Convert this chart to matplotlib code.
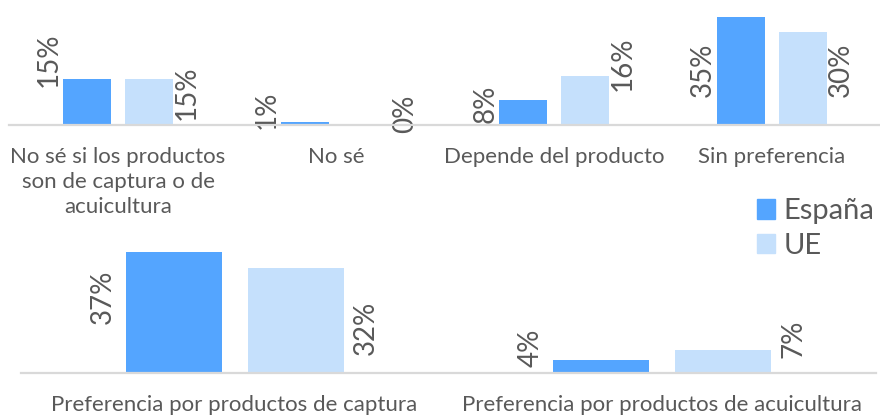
import matplotlib
matplotlib.use("Agg")
import matplotlib.pyplot as plt
from matplotlib.patches import Patch

plt.rcParams['font.family'] = ['Lato', 'DejaVu Sans']

# ---- data ----
top_categories = ["No sé si los productos\nson de captura o de\nacuicultura",
                  "No sé", "Depende del producto", "Sin preferencia"]
top_espana = [15, 1, 8, 35]
top_ue = [15, 0, 16, 30]

bottom_categories = ["Preferencia por productos de captura",
                     "Preferencia por productos de acuicultura"]
bottom_espana = [37, 4]
bottom_ue = [32, 7]

series_names = ["España", "UE"]

# ---- label placement (centre of rotated value labels, in data units) ----
top_lab_es = [21.2, 4.9, 6.8, 18.0]
top_lab_ue = [10.4, 3.6, 19.7, 18.0]
bot_lab_es = [23.2, 7.6]
bot_lab_ue = [13.8, 10.4]

C_ES = "#54A5FF"
C_UE = "#C5E0FC"
TXT = "#595959"
AX = "#D9D9D9"

W, H = 880, 415
fig = plt.figure(figsize=(W / 100, H / 100), dpi=100)

ax1 = fig.add_axes([9 / W, (H - 125) / H, 872 / W, 125 / H])
ax2 = fig.add_axes([20.75 / W, (H - 373) / H, 855.25 / W, 133 / H])


def draw(ax, cats, es, ue, lab_es, lab_ue, width, off, ymax, xoff_pt):
    x = list(range(len(cats)))
    b1 = ax.bar([i - off for i in x], es, width, color=C_ES, zorder=2)
    b2 = ax.bar([i + off for i in x], ue, width, color=C_UE, zorder=2)
    ax.set_xlim(-0.5, len(cats) - 0.5)
    ax.set_ylim(0, ymax)
    for s in ("top", "left", "right"):
        ax.spines[s].set_visible(False)
    ax.spines["bottom"].set_color(AX)
    ax.spines["bottom"].set_linewidth(1.6)
    ax.spines["bottom"].set_zorder(3)
    ax.set_yticks([])
    ax.set_xticks(x)
    ax.set_xticklabels(cats, fontsize=16, color=TXT, linespacing=1.3)
    ax.tick_params(axis="x", length=0, pad=16)
    ax.patch.set_visible(False)
    for rect, v, ly in zip(b1, es, lab_es):
        ax.annotate(f"{v}%", xy=(rect.get_x(), ly), xytext=(-xoff_pt, 0),
                    textcoords="offset points", rotation=90, ha="center",
                    va="center", fontsize=20, color=TXT)
    for rect, v, ly in zip(b2, ue, lab_ue):
        ax.annotate(f"{v}%", xy=(rect.get_x() + rect.get_width(), ly),
                    xytext=(xoff_pt, 0), textcoords="offset points",
                    rotation=90, ha="center", va="center", fontsize=20,
                    color=TXT)


draw(ax1, top_categories, top_espana, top_ue, top_lab_es, top_lab_ue,
     0.22, 0.142, 40.45, 10)
draw(ax2, bottom_categories, bottom_espana, bottom_ue, bot_lab_es, bot_lab_ue,
     0.2246, 0.1427, 40.7, 16)

handles = [Patch(color=C_ES), Patch(color=C_UE)]
leg = fig.legend(handles, series_names, loc="center left",
                 bbox_to_anchor=(757 / W, (H - 228.5) / H), frameon=False,
                 fontsize=21, handlelength=0.6, handleheight=0.65,
                 handletextpad=0.3, labelspacing=0.3, borderpad=0,
                 borderaxespad=0)
for t in leg.get_texts():
    t.set_color(TXT)

fig.savefig("out.png", dpi=100)
